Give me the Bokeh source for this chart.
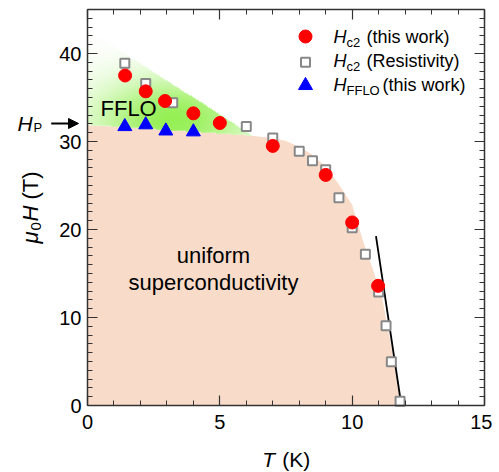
import numpy as np
from bokeh.plotting import figure
from bokeh.models import Range1d, SingleIntervalTicker, LinearAxis, Label, Arrow, NormalHead
from bokeh.embed import file_html
from bokeh.resources import INLINE

# ---------------- data ----------------
T_hc2 = [1.42, 2.20, 2.93, 4.00, 5.00, 7.00, 9.00, 10.00, 10.98]
H_hc2 = [37.5, 35.7, 34.6, 33.2, 32.1, 29.5, 26.2, 20.8, 13.6]

T_res = [1.41, 2.20, 3.22, 6.00, 7.00, 8.00, 8.50, 9.00, 9.50, 10.00, 10.50, 11.00, 11.28, 11.48, 11.81]
H_res = [38.9, 36.6, 34.4, 31.7, 30.4, 28.9, 27.8, 26.8, 23.6, 20.2, 17.2, 12.9, 9.06, 4.98, 0.49]

T_fflo = [1.41, 2.20, 2.96, 4.00]
H_fflo = [31.7, 31.9, 31.2, 31.1]

T_fit = [10.90, 11.86]
H_fit = [19.25, 0.0]

# boundary of the uniform superconducting region
T_sc = [0, 1, 2, 3, 4, 5, 6, 7, 7.5, 8, 8.5, 9, 9.5, 10, 10.4, 10.8, 11.15, 11.5, 11.84]
H_sc = [31.85, 31.7, 31.5, 31.3, 31.1, 30.9, 30.7, 30.4, 30.05, 29.4, 28.5, 27.1, 25.1, 22.8, 18.8, 15.3, 12.0, 6.3, 0.0]

# upper edge of the FFLO region
T_top = [0.0, 6.2]
H_top = [42.6, 30.7]

T_lim = (0.0, 15.0)
H_lim = (0.0, 45.0)
x_major = 5
y_major = 10

# ---------------- geometry (canvas pixels) ----------------
W, H = 492, 472
FX0, FX1 = 87.0, 484.0     # pixel of T=0 and T=15
FY0, FY1 = 9.0, 405.0      # pixel of H=45 and H=0
SX = (T_lim[1] - T_lim[0]) / (FX1 - FX0)
SY = (H_lim[1] - H_lim[0]) / (FY1 - FY0)
KB = 0.33   # baseline correction (fraction of font size)


def px2d(xp, yp):
    return (T_lim[0] + (xp - FX0) * SX, H_lim[0] + (FY1 - yp) * SY)


x0, y0 = px2d(0, H)
x1, y1 = px2d(W, 0)

p = figure(width=W, height=H, output_backend="svg", toolbar_location=None,
           x_range=Range1d(x0, x1), y_range=Range1d(y0, y1),
           min_border_left=0, min_border_right=0, min_border_top=0, min_border_bottom=0)
p.xgrid.visible = False
p.ygrid.visible = False
p.outline_line_color = None
p.background_fill_color = "white"
p.border_fill_color = "white"

FONT = "Liberation Sans"
AX = "#333333"


def style_axis(ax, interval, nminor, loc, bounds, labels=True):
    ax.ticker = SingleIntervalTicker(interval=interval, num_minor_ticks=nminor)
    ax.fixed_location = loc
    ax.bounds = bounds
    ax.axis_line_color = AX
    ax.axis_line_width = 1.5
    ax.major_tick_line_color = AX
    ax.minor_tick_line_color = AX
    ax.major_tick_line_width = 1.2
    ax.minor_tick_line_width = 1.0
    ax.major_tick_in = 10
    ax.major_tick_out = 0
    ax.minor_tick_in = 5
    ax.minor_tick_out = 0
    ax.major_label_text_font = FONT
    ax.major_label_text_font_size = "20px"
    if labels:
        ax.major_label_text_color = "black"
    else:
        ax.major_label_text_color = None


style_axis(p.xaxis[0], x_major, 5, H_lim[0], T_lim)
p.xaxis[0].major_label_standoff = 9
style_axis(p.yaxis[0], y_major, 10, T_lim[0], H_lim)
p.yaxis[0].major_label_standoff = 6

top = LinearAxis()
style_axis(top, x_major, 5, H_lim[1], T_lim, labels=False)
p.add_layout(top, "above")
right = LinearAxis()
style_axis(right, y_major, 10, T_lim[1], H_lim, labels=False)
p.add_layout(right, "right")

# ---------------- regions ----------------
p.patch(T_sc + [0.0], H_sc + [0.0], fill_color="#F8DCC9", line_color=None, level="underlay")

gx0, gx1, gy0, gy1 = 0.0, 6.6, 29.5, 43.0
nx, ny = 270, 240
Tg = gx0 + (np.arange(nx) + 0.5) * (gx1 - gx0) / nx
Hg = gy0 + (np.arange(ny) + 0.5) * (gy1 - gy0) / ny
TT, HH = np.meshgrid(Tg, Hg)
lower = np.interp(TT, T_sc, H_sc)
upper = np.interp(TT, T_top, H_top, right=0.0)
mask = (HH >= lower) & (HH <= upper)
w = np.exp(-((TT - 3.2) / 3.0) ** 2 - ((HH - 32.5) / 4.8) ** 2)
G = np.array([150.0, 240.0, 85.0])
rgb = 255.0 * (1 - w)[..., None] + G * w[..., None]
img = np.zeros((ny, nx), dtype=np.uint32)
view = img.view(dtype=np.uint8).reshape((ny, nx, 4))
view[..., 0] = rgb[..., 0].astype(np.uint8)
view[..., 1] = rgb[..., 1].astype(np.uint8)
view[..., 2] = rgb[..., 2].astype(np.uint8)
view[..., 3] = np.where(mask, 255, 0).astype(np.uint8)
p.image_rgba(image=[img], x=gx0, y=gy0, dw=gx1 - gx0, dh=gy1 - gy0, level="underlay")

# ---------------- lines and markers ----------------
p.line(T_fit, H_fit, line_color="black", line_width=1.8)
p.scatter(T_res, H_res, marker="square", size=9, fill_color="white", line_color="#888888", line_width=2)
p.scatter(T_hc2, H_hc2, marker="circle", size=13, fill_color="#FF0000", line_color="#FF0000")
p.scatter(T_fflo, H_fflo, marker="triangle", size=14, fill_color="#0000FF", line_color="#0000FF")


def lab(xp, yp, text, size, italic=False, align="left", angle=0.0):
    # (xp, yp) is the intended baseline start in canvas pixels
    if angle == 0.0:
        x, y = px2d(xp, yp - KB * size)
    else:
        x, y = px2d(xp - KB * size, yp)
    p.add_layout(Label(x=x, y=y, text=text, text_font=FONT, text_font_size=f"{size}px",
                       text_font_style="italic" if italic else "normal",
                       text_align=align, text_baseline="alphabetic",
                       angle=angle, text_color="black"))


# ---------------- legend ----------------
lx, ly = px2d(305, 36)
p.scatter([lx], [ly], marker="circle", size=13, fill_color="#FF0000", line_color="#FF0000")
lx, ly = px2d(305, 61.7)
p.scatter([lx], [ly], marker="square", size=9, fill_color="white", line_color="#888888", line_width=2)
lx, ly = px2d(305, 85)
p.scatter([lx], [ly], marker="triangle", size=14, fill_color="#0000FF", line_color="#0000FF")

rows = [(42.7, "c2", "(this work)", 366), (66.7, "c2", "(Resistivity)", 366), (90.5, "FFLO", "(this work)", 382)]
for base, sub, rest, rx in rows:
    lab(333, base, "H", 18, italic=True)
    lab(346, base + 3.5, sub, 13)
    lab(rx, base, rest, 18)

# ---------------- region texts ----------------
lab(100, 115, "FFLO", 22)
lab(213, 262.7, "uniform", 22, align="center")
lab(213, 289.3, "superconductivity", 22, align="center")

# H_P marker
lab(17, 130, "H", 21, italic=True)
lab(33, 131.5, "P", 13)
ax0, ay0 = px2d(50.7, 123)
ax1, ay1 = px2d(78, 123)
p.add_layout(Arrow(x_start=ax0, y_start=ay0, x_end=ax1, y_end=ay1, line_width=2, line_color="black",
                   end=NormalHead(size=10, fill_color="black", line_color="black")))

# ---------------- axis labels ----------------
lab(261.7, 466, "T", 21, italic=True)
lab(281.7, 466, "(K)", 21)

A = np.pi / 2
lab(37, 243, "μ", 22, italic=True, angle=A)
lab(40, 230, "0", 15, angle=A)
lab(37, 221, "H", 22, italic=True, angle=A)
lab(37, 199, "(T)", 22, angle=A)

open("out.html", "w").write(file_html(p, INLINE))
